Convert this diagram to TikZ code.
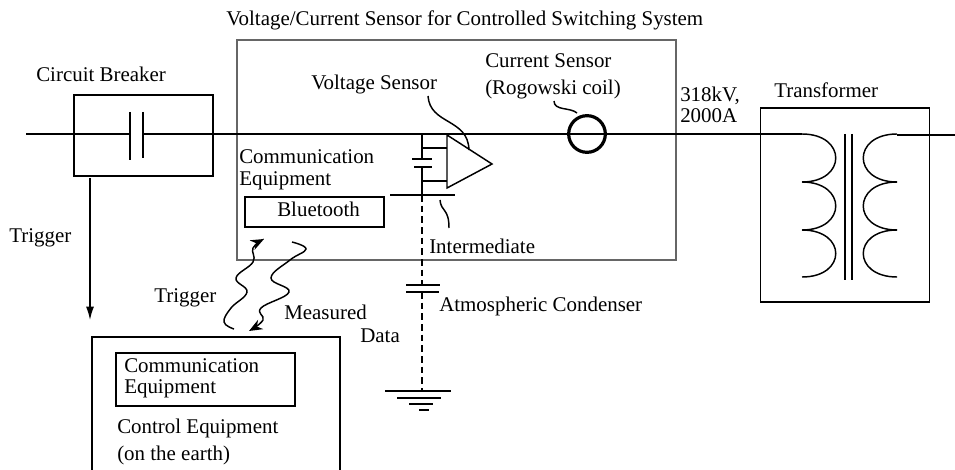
\documentclass[tikz,border=0pt]{standalone}
\usepackage{fontspec}
\setmainfont{Liberation Serif}
\usetikzlibrary{arrows.meta}
\tikzstyle{boxk}=[draw,line width=1.2pt,inner sep=0pt]
\tikzstyle{boxg}=[draw=black!60,line width=0.9pt,inner sep=0pt]
\tikzstyle{lbl}=[anchor=base west,inner sep=0pt,font=\fontsize{15.7}{18}\selectfont]
\tikzstyle{wire}=[line width=1.1pt]
\tikzstyle{wave}=[line width=1.1pt,-{Stealth[length=10pt,width=8pt]}]

\begin{document}
\begin{tikzpicture}[x=0.75pt,y=-0.75pt]
    \useasboundingbox (0,0) rectangle (955,470);
    % boxes
    \node[boxg,minimum width=329.25pt,minimum height=165pt] (sensor) at (456.5,150) {};
    \node[boxk,minimum width=104pt,minimum height=61pt] (breaker) at (143.5,135.5) {};
    \node[boxk,minimum width=126.5pt,minimum height=145.5pt] (trans) at (845,205) {};
    \node[boxk,minimum width=104.25pt,minimum height=22.5pt] (blue) at (314.5,212) {};
    \node[boxk,minimum width=186pt,minimum height=107pt] (control) at (216,408.5) {};
    \node[boxk,minimum width=134.25pt,minimum height=39.75pt] (comm) at (205.5,379.5) {};

    % labels
    \node[lbl] (title) at (226,26) {Voltage/Current Sensor for Controlled Switching System};
    \node[lbl] (lcb) at (36,82) {Circuit Breaker};
    \node[lbl] (lvs) at (311,90) {Voltage Sensor};
    \node[lbl] (lcs) at (485,68) {Current Sensor};
    \node[lbl] (lrc) at (485,95) {(Rogowski coil)};
    \node[lbl] (lkv) at (680,102) {318kV,};
    \node[lbl] (lam) at (680,123) {2000A};
    \node[lbl] (ltf) at (774,98) {Transformer};
    \node[lbl] (lca) at (239,164) {Communication};
    \node[lbl] (lea) at (239,186) {Equipment};
    \node[lbl] (lbt) at (277,217) {Bluetooth};
    \node[lbl] (lint) at (429,253) {Intermediate};
    \node[lbl] (ltra) at (9,242) {Trigger};
    \node[lbl] (ltrb) at (154,302) {Trigger};
    \node[lbl] (lmd) at (284,319) {Measured};
    \node[lbl] (lda) at (360,342) {Data};
    \node[lbl] (lac) at (439,311) {Atmospheric Condenser};
    \node[lbl] (lcb2) at (124,372) {Communication};
    \node[lbl] (leb) at (124,393) {Equipment};
    \node[lbl] (lco) at (117,433) {Control Equipment};
    \node[lbl] (leh) at (117,460) {(on the earth)};

    % main line
    \coordinate (la) at (26,134);
    \coordinate (lb) at (129,134);
    \coordinate (lc) at (143,134);
    \coordinate (ld) at (802,134);
    \coordinate (le) at (897,135);
    \coordinate (lf) at (955,135);
    \coordinate (pa1) at (130,112);
    \coordinate (pa2) at (130,160);
    \coordinate (pb1) at (143,112);
    \coordinate (pb2) at (143,158);
    \coordinate (ta) at (90,178);
    \coordinate (tb) at (90,320);

    % coils
    \coordinate (ca) at (845,134);
    \coordinate (cb) at (845,280);
    \coordinate (cc) at (852,134);
    \coordinate (cd) at (852,280);
    \foreach \i/\y in {1/134,2/182,3/230,4/277}
    {
        \coordinate (cl\i) at (802,\y);
        \coordinate (cr\i) at (897,\y);
    }
    \foreach \from/\to in {cl1/cl2,cl2/cl3,cl3/cl4}
    \draw[wire] (\from) .. controls +(45,0) and +(45,0) .. (\to);
    \foreach \from/\to in {cr1/cr2,cr2/cr3,cr3/cr4}
    \draw[wire] (\from) .. controls +(-45,0) and +(-45,0) .. (\to);

    % voltage sensor
    \coordinate (va) at (422,134);
    \coordinate (vb) at (422,159);
    \coordinate (vc) at (422,167);
    \coordinate (vd) at (422,195);
    \coordinate (sa) at (422,148);
    \coordinate (sb) at (447,148);
    \coordinate (sc) at (422,181);
    \coordinate (sd) at (447,181);
    \coordinate (pc1) at (412,159);
    \coordinate (pc2) at (432,159);
    \coordinate (pd1) at (414,167);
    \coordinate (pd2) at (432,167);
    \coordinate (ia) at (390,195);
    \coordinate (ib) at (455,195);
    \coordinate (ga) at (422,285);
    \coordinate (gb) at (422,292);
    \coordinate (gc) at (422,391);
    \coordinate (qa) at (406,285);
    \coordinate (qb) at (440,285);
    \coordinate (qc) at (406,292);
    \coordinate (qd) at (439,292);
    \foreach \n/\a/\b/\y in {1/385/451/391,2/397/441/398,3/409/433/404,4/419/429/410}
    {
        \coordinate (ea\n) at (\a,\y);
        \coordinate (eb\n) at (\b,\y);
        \draw[wire] (ea\n) -- (eb\n);
    }
    \draw[wire] (447,135) -- (492,164) -- (447,188) -- cycle;

    \foreach \from/\to in {la/lb,lc/ld,le/lf,pa1/pa2,pb1/pb2,ca/cb,cc/cd,va/vb,vc/vd,sa/sb,sc/sd,pc1/pc2,pd1/pd2,ia/ib,qa/qb,qc/qd}
    \draw[wire] (\from) -- (\to);
    \draw[wire,-{Latex[length=10pt,width=6pt]}] (ta) -- (tb);
    \foreach \from/\to in {vd/ga,gb/gc}
    \draw[wire,dash pattern=on 5pt off 3pt] (\from) -- (\to);

    % current sensor
    \node[circle,draw,line width=2.4pt,minimum size=27.5pt,inner sep=0pt] (coil) at (587,134) {};

    % leaders
    \draw[wire] (428,96) .. controls (430,125) and (468,118) .. (469,150);
    \draw[wire] (554,101) .. controls (554,111) and (570,107) .. (577,113);
    \draw[wire] (440,200) .. controls (441,212) and (449,208) .. (449,228);

    % radio links
    \draw[wave] plot[smooth,tension=0.7] coordinates {(234,329) (224,322) (231,308) (247,292) (236,278) (253,262) (253,248) (264,239)};
    \draw[wave] plot[smooth,tension=0.7] coordinates {(292,242) (306,249) (290,260) (271,278) (289,292) (261,308) (263,320) (249,331)};
\end{tikzpicture}
\end{document}
